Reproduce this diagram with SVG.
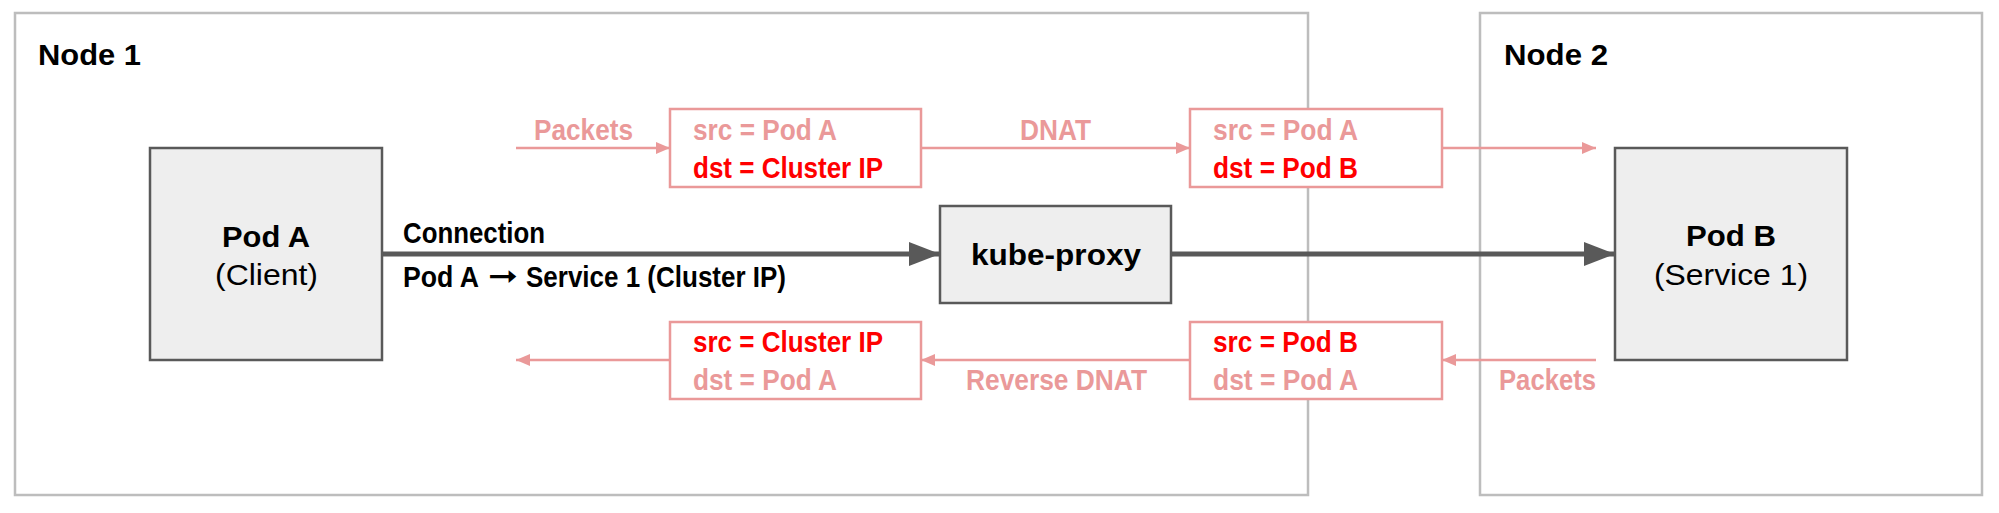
<svg xmlns="http://www.w3.org/2000/svg" width="1999" height="513" viewBox="0 0 1999 513">
<style>
text{font-family:"Liberation Sans",Arial,sans-serif;font-size:30px;font-weight:bold;}
.node{fill:#ffffff;stroke:#bdbdbd;stroke-width:2.5;}
.pod{fill:#eeeeee;stroke:#595959;stroke-width:2.5;}
.pkt{fill:#ffffff;stroke:#ea9999;stroke-width:2.5;}
.pink{fill:#ea9999;}
.red{fill:#ff0000;}
.blk{fill:#000000;}
.reg{font-weight:normal;}
.arr{font-family:"DejaVu Sans",sans-serif;}
.pl{stroke:#ea9999;stroke-width:2.5;fill:none;}
.dl{stroke:#595959;stroke-width:5;fill:none;}
</style>
<defs>
<marker id="ap" markerUnits="userSpaceOnUse" markerWidth="14" markerHeight="12" refX="14" refY="6" orient="auto">
<path d="M0,0 L14,6 L0,12 Z" fill="#ea9999"/>
</marker>
<marker id="ad" markerUnits="userSpaceOnUse" markerWidth="31" markerHeight="24" refX="31" refY="12" orient="auto">
<path d="M0,0 L31,12 L0,24 Z" fill="#595959"/>
</marker>
</defs>
<g id="node1">
<rect class="node" x="15" y="13" width="1293" height="482"/>
<text class="blk" x="38" y="65" textLength="103" lengthAdjust="spacingAndGlyphs">Node 1</text>
</g>
<g id="node2">
<rect class="node" x="1480" y="13" width="502" height="482"/>
<text class="blk" x="1504" y="65" textLength="104" lengthAdjust="spacingAndGlyphs">Node 2</text>
</g>
<g id="connectors">
<line class="dl" x1="382" y1="254" x2="940" y2="254" marker-end="url(#ad)"/>
<line class="dl" x1="1171" y1="254" x2="1615" y2="254" marker-end="url(#ad)"/>
<line class="pl" x1="516" y1="148" x2="670" y2="148" marker-end="url(#ap)"/>
<line class="pl" x1="921" y1="148" x2="1190" y2="148" marker-end="url(#ap)"/>
<line class="pl" x1="1442" y1="148" x2="1596" y2="148" marker-end="url(#ap)"/>
<line class="pl" x1="1596" y1="360" x2="1442" y2="360" marker-end="url(#ap)"/>
<line class="pl" x1="1190" y1="360" x2="921" y2="360" marker-end="url(#ap)"/>
<line class="pl" x1="670" y1="360" x2="516" y2="360" marker-end="url(#ap)"/>
<text class="blk" x="403" y="243" textLength="142" lengthAdjust="spacingAndGlyphs">Connection</text>
<text class="blk" x="403" y="287" textLength="76" lengthAdjust="spacingAndGlyphs">Pod A</text>
<text class="blk arr" x="488" y="286" textLength="30" lengthAdjust="spacingAndGlyphs">➞</text>
<text class="blk" x="526" y="287" textLength="260" lengthAdjust="spacingAndGlyphs">Service 1 (Cluster IP)</text>
<text class="pink" x="534" y="140" textLength="99" lengthAdjust="spacingAndGlyphs">Packets</text>
<text class="pink" x="1020" y="140" textLength="71" lengthAdjust="spacingAndGlyphs">DNAT</text>
<text class="pink" x="966" y="390" textLength="181" lengthAdjust="spacingAndGlyphs">Reverse DNAT</text>
<text class="pink" x="1499" y="390" textLength="97" lengthAdjust="spacingAndGlyphs">Packets</text>
</g>
<g id="podA">
<rect class="pod" x="150" y="148" width="232" height="212"/>
<text class="blk" x="222" y="247" textLength="88" lengthAdjust="spacingAndGlyphs">Pod A</text>
<text class="blk reg" x="215" y="285" textLength="103" lengthAdjust="spacingAndGlyphs">(Client)</text>
</g>
<g id="podB">
<rect class="pod" x="1615" y="148" width="232" height="212"/>
<text class="blk" x="1686" y="246" textLength="90" lengthAdjust="spacingAndGlyphs">Pod B</text>
<text class="blk reg" x="1654" y="285" textLength="154" lengthAdjust="spacingAndGlyphs">(Service 1)</text>
</g>
<g id="kubeproxy">
<rect class="pod" x="940" y="206" width="231" height="97"/>
<text class="blk" x="971" y="265" textLength="170" lengthAdjust="spacingAndGlyphs">kube-proxy</text>
</g>
<g id="packet1">
<rect class="pkt" x="670" y="109" width="251" height="78"/>
<text class="pink" x="693" y="140" textLength="144" lengthAdjust="spacingAndGlyphs">src = Pod A</text>
<text class="red" x="693" y="178" textLength="190" lengthAdjust="spacingAndGlyphs">dst = Cluster IP</text>
</g>
<g id="packet2">
<rect class="pkt" x="1190" y="109" width="252" height="78"/>
<text class="pink" x="1213" y="140" textLength="145" lengthAdjust="spacingAndGlyphs">src = Pod A</text>
<text class="red" x="1213" y="178" textLength="145" lengthAdjust="spacingAndGlyphs">dst = Pod B</text>
</g>
<g id="packet3">
<rect class="pkt" x="670" y="322" width="251" height="77"/>
<text class="red" x="693" y="352" textLength="190" lengthAdjust="spacingAndGlyphs">src = Cluster IP</text>
<text class="pink" x="693" y="390" textLength="144" lengthAdjust="spacingAndGlyphs">dst = Pod A</text>
</g>
<g id="packet4">
<rect class="pkt" x="1190" y="322" width="252" height="77"/>
<text class="red" x="1213" y="352" textLength="145" lengthAdjust="spacingAndGlyphs">src = Pod B</text>
<text class="pink" x="1213" y="390" textLength="145" lengthAdjust="spacingAndGlyphs">dst = Pod A</text>
</g>
</svg>
